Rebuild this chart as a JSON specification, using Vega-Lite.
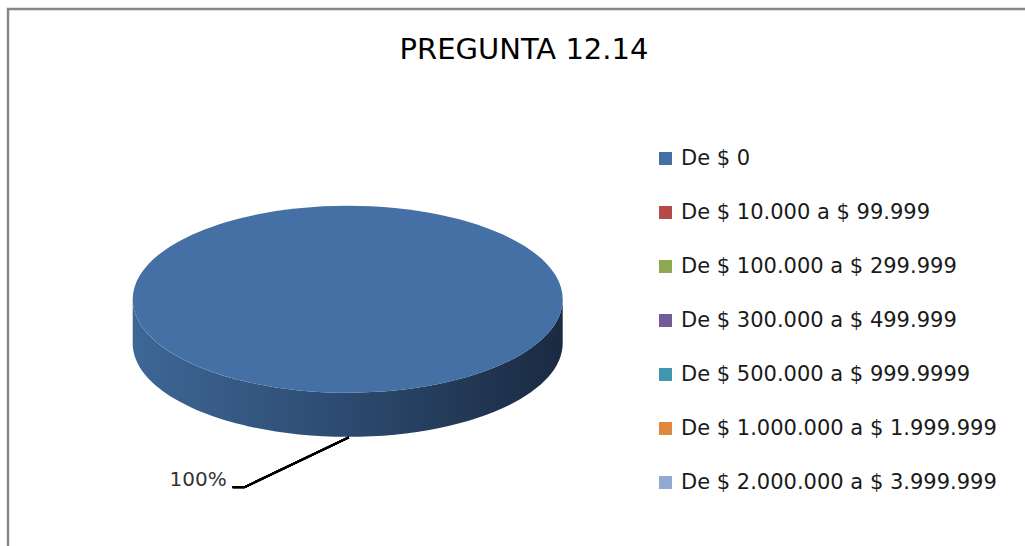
{
  "$schema": "https://vega.github.io/schema/vega-lite/v6.json",
  "autosize": "none",
  "padding": {"left": 8, "top": 9, "right": 0, "bottom": 0},
  "width": 1032,
  "height": 559,
  "background": "white",
  "config": {
    "view": {"stroke": "#878787", "strokeWidth": 2.5},
    "font": "DejaVu Sans"
  },
  "title": {
    "text": "PREGUNTA 12.14",
    "orient": "top",
    "anchor": "middle",
    "frame": "group",
    "font": "DejaVu Sans",
    "fontSize": 29,
    "fontWeight": "normal",
    "color": "#000000",
    "baseline": "alphabetic",
    "offset": 0,
    "dy": 79
  },
  "data": {
    "values": [
      {"categoria": "De $ 0", "porcentaje": 1},
      {"categoria": "De $ 10.000 a $ 99.999", "porcentaje": 0},
      {"categoria": "De $ 100.000 a $ 299.999", "porcentaje": 0},
      {"categoria": "De $ 300.000 a $ 499.999", "porcentaje": 0},
      {"categoria": "De $ 500.000 a $ 999.9999", "porcentaje": 0},
      {"categoria": "De $ 1.000.000 a $ 1.999.999", "porcentaje": 0},
      {"categoria": "De $ 2.000.000 a $ 3.999.999", "porcentaje": 0}
    ]
  },
  "layer": [
    {
      "transform": [{"filter": "datum.porcentaje > 0"}],
      "mark": {
        "type": "point",
        "filled": true,
        "opacity": 1,
        "strokeWidth": 0,
        "shape": "M -1 0 L -1 0.205 A 1 0.435 0 0 0 1 0.205 L 1 0 A 1 0.435 0 0 1 -1 0 Z",
        "size": 184900,
        "fill": {
          "gradient": "linear",
          "x1": 0, "y1": 0, "x2": 1, "y2": 0,
          "stops": [
            {"offset": 0, "color": "#3e6796"},
            {"offset": 0.5, "color": "#2c4a6f"},
            {"offset": 1, "color": "#1a2a41"}
          ]
        }
      },
      "encoding": {
        "x": {"datum": 0, "type": "quantitative", "scale": {"domain": [-1.58, 3.22], "nice": false, "zero": false}, "axis": null},
        "y": {"datum": 0, "type": "quantitative", "scale": {"domain": [-1.25, 1.35], "nice": false, "zero": false}, "axis": null}
      }
    },
    {
      "transform": [{"filter": "datum.porcentaje > 0"}],
      "mark": {
        "type": "point",
        "filled": true,
        "opacity": 1,
        "strokeWidth": 0,
        "shape": "M -1 0 A 1 0.435 0 1 1 1 0 A 1 0.435 0 1 1 -1 0 Z",
        "size": 184900
      },
      "encoding": {
        "x": {"datum": 0, "type": "quantitative"},
        "y": {"datum": 0, "type": "quantitative"},
        "color": {
          "field": "categoria",
          "type": "nominal",
          "scale": {
            "domain": ["De $ 0", "De $ 10.000 a $ 99.999", "De $ 100.000 a $ 299.999", "De $ 300.000 a $ 499.999", "De $ 500.000 a $ 999.9999", "De $ 1.000.000 a $ 1.999.999", "De $ 2.000.000 a $ 3.999.999"],
            "range": ["#4470A5", "#B64A47", "#8DAA52", "#745A96", "#4097AF", "#E0893E", "#94A9D1"]
          },
          "legend": {
            "title": null,
            "orient": "none",
            "legendX": 647,
            "legendY": 139,
            "padding": 0,
            "symbolType": "square",
            "symbolSize": 169,
            "symbolStrokeWidth": 0,
            "symbolOpacity": 1,
            "labelFont": "DejaVu Sans",
            "labelFontSize": 21,
            "labelColor": "#1a1a1a",
            "labelOffset": 5,
            "labelLimit": 400,
            "rowPadding": 32
          }
        }
      }
    },
    {
      "mark": {"type": "rule", "color": "#000000", "strokeWidth": 2},
      "encoding": {
        "x": {"datum": -0.535, "type": "quantitative"},
        "y": {"datum": -0.874, "type": "quantitative"},
        "x2": {"datum": -0.479},
        "y2": {"datum": -0.874}
      }
    },
    {
      "mark": {"type": "rule", "color": "#000000", "strokeWidth": 2},
      "encoding": {
        "x": {"datum": -0.479, "type": "quantitative"},
        "y": {"datum": -0.874, "type": "quantitative"},
        "x2": {"datum": 0.005},
        "y2": {"datum": -0.642}
      }
    },
    {
      "transform": [{"filter": "datum.porcentaje > 0"}],
      "mark": {"type": "text", "align": "right", "baseline": "alphabetic", "font": "DejaVu Sans", "fontSize": 20, "color": "#333333"},
      "encoding": {
        "x": {"datum": -0.563, "type": "quantitative"},
        "y": {"datum": -0.87, "type": "quantitative"},
        "text": {"field": "porcentaje", "type": "quantitative", "format": ".0%"}
      }
    }
  ]
}
